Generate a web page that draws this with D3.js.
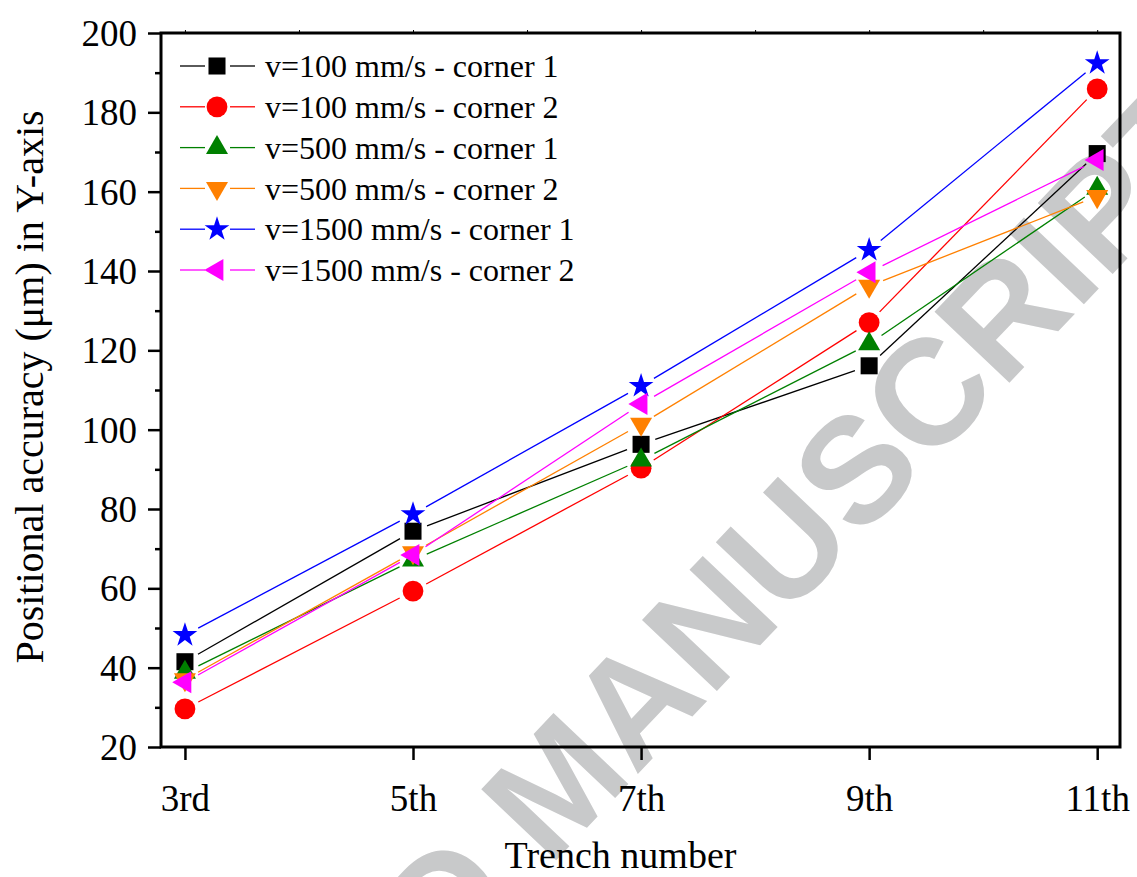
<!DOCTYPE html>
<meta charset="utf-8">
<style>
body { margin: 0; background: #fff; }
svg { display: block; background: #fff; }
text { font-family: "Liberation Serif", "Times New Roman", serif; fill: #000; }
.mark text { font-family: "Liberation Sans", Arial, sans-serif; font-weight: bold; fill: #c8c9ca; }
</style>
<body>
<svg width="1137" height="877"></svg>
</body>
<script src="https://cdn.jsdelivr.net/npm/d3@7"></script>
<script>

// trench positions (3rd .. 11th)
var trench = [3, 5, 7, 9, 11];
var trenchLabels = ["3rd", "5th", "7th", "9th", "11th"];

// positional accuracy, um
var v100c1 = [41.5, 74.4, 96.3, 116.1, 169.6];
var v100c2 = [29.6, 59.3, 90.3, 127.0, 185.9];
var v500c1 = [38.8, 67.1, 92.3, 121.6, 160.8];
var v500c2 = [37.0, 69.0, 101.4, 136.2, 158.8];
var v1500c1 = [48.2, 78.7, 111.0, 145.3, 192.4];
var v1500c2 = [36.3, 68.4, 106.5, 139.7, 168.0];

var seriesNames = [
  "v=100 mm/s - corner 1",
  "v=100 mm/s - corner 2",
  "v=500 mm/s - corner 1",
  "v=500 mm/s - corner 2",
  "v=1500 mm/s - corner 1",
  "v=1500 mm/s - corner 2"
];
var seriesValues = [v100c1, v100c2, v500c1, v500c2, v1500c1, v1500c2];
var seriesColors = ["#000000", "#ff0000", "#008000", "#ff8000", "#0000ff", "#ff00ff"];
var seriesSymbols = ["square", "circle", "up", "down", "star", "left"];

var yTicks = [20, 40, 60, 80, 100, 120, 140, 160, 180, 200];

var svg = d3.select("svg");

var plot = { left: 161, right: 1120, top: 33, bottom: 747 };

var x = d3.scaleLinear().domain([2.79, 11.2]).range([plot.left, plot.right]);
var y = d3.scaleLinear().domain([20, 200]).range([plot.bottom, plot.top]);

// watermark goes underneath everything
svg.append("g")
    .attr("class", "mark")
  .append("text")
    .attr("transform", "translate(556,782) rotate(-46.5)")
    .attr("text-anchor", "middle")
    .attr("dy", "0.36em")
    .style("font-size", "150px")
    .text("ACCEPTED MANUSCRIPT");

function symbolPath(kind) {
  switch (kind) {
    case "square": return d3.symbol(d3.symbolSquare, 290)();
    case "circle": return d3.symbol(d3.symbolCircle, 340)();
    case "up":
    case "down":
    case "left": return d3.symbol(d3.symbolTriangle, 210)();
    case "star": return d3.symbol(d3.symbolStar, 190)();
  }
}

function symbolRotate(kind) {
  if (kind == "down") return " rotate(180)";
  if (kind == "left") return " rotate(-90)";
  return "";
}

// axes
function drawAxes() {
  var g = svg.append("g").attr("class", "axes");

  var yAxis = d3.axisLeft(y).tickValues(yTicks).tickSize(13).tickFormat(d3.format("d"));
  var gy = g.append("g").attr("transform", `translate(${plot.left},0)`).call(yAxis);
  gy.selectAll(".tick line").attr("stroke-width", 2.5);
  gy.selectAll("text").attr("x", -24).attr("dy", "0.34em").style("font-size", "37px")
    .style("font-family", "Liberation Serif");
  gy.select(".domain").remove();

  var yMinor = d3.axisLeft(y).tickValues(d3.range(30, 200, 20)).tickSize(6).tickFormat("");
  var gym = g.append("g").attr("transform", `translate(${plot.left},0)`).call(yMinor);
  gym.selectAll(".tick line").attr("stroke-width", 2.5);
  gym.select(".domain").remove();

  var xAxis = d3.axisBottom(x).tickValues(trench).tickSize(13)
      .tickFormat((d, i) => trenchLabels[i]);
  var gx = g.append("g").attr("transform", `translate(0,${plot.bottom})`).call(xAxis);
  gx.selectAll(".tick line").attr("stroke-width", 2.5);
  gx.selectAll("text").attr("y", 64).attr("dy", 0).style("font-size", "37px")
    .style("font-family", "Liberation Serif");
  gx.select(".domain").remove();

  var xTop = d3.axisTop(x).tickValues(d3.range(3, 12)).tickSize(3).tickFormat("");
  var gxt = g.append("g").attr("transform", `translate(0,${plot.top})`).call(xTop);
  gxt.selectAll(".tick line").attr("stroke-width", 1);
  gxt.select(".domain").remove();

  g.append("rect")
      .attr("x", plot.left)
      .attr("y", plot.top)
      .attr("width", plot.right - plot.left)
      .attr("height", plot.bottom - plot.top)
      .attr("fill", "none")
      .attr("stroke", "#000")
      .attr("stroke-width", 3);

  svg.append("text")
      .attr("x", (plot.left + plot.right) / 2 - 20)
      .attr("y", 868)
      .attr("text-anchor", "middle")
      .style("font-size", "38px")
      .text("Trench number");

  svg.append("text")
      .attr("transform", "translate(43,387) rotate(-90)")
      .attr("text-anchor", "middle")
      .style("font-size", "40px")
      .text("Positional accuracy (\u03bcm) in Y-axis");
}

// lines stop short of the markers, like the original
var gap = 15;

function drawSeries() {
  var g = svg.append("g").attr("class", "series");
  seriesValues.forEach(function(vals, s) {
    var pts = trench.map((t, i) => [x(t), y(vals[i])]);
    var segs = d3.pairs(pts);
    g.append("g").selectAll("line")
      .data(segs)
      .enter().append("line")
        .attr("x1", d => d[0][0] + gap * (d[1][0] - d[0][0]) / Math.hypot(d[1][0] - d[0][0], d[1][1] - d[0][1]))
        .attr("y1", d => d[0][1] + gap * (d[1][1] - d[0][1]) / Math.hypot(d[1][0] - d[0][0], d[1][1] - d[0][1]))
        .attr("x2", d => d[1][0] - gap * (d[1][0] - d[0][0]) / Math.hypot(d[1][0] - d[0][0], d[1][1] - d[0][1]))
        .attr("y2", d => d[1][1] - gap * (d[1][1] - d[0][1]) / Math.hypot(d[1][0] - d[0][0], d[1][1] - d[0][1]))
        .attr("stroke", seriesColors[s])
        .attr("stroke-width", 1.3);
    g.append("g").selectAll("path")
      .data(pts)
      .enter().append("path")
        .attr("d", symbolPath(seriesSymbols[s]))
        .attr("transform", d => `translate(${d[0]},${d[1]})` + symbolRotate(seriesSymbols[s]))
        .attr("fill", seriesColors[s]);
  });
}

function drawLegend() {
  var lg = svg.append("g").attr("class", "legend");
  var row = lg.selectAll("g")
    .data(seriesNames)
    .enter().append("g")
      .attr("transform", (d, i) => `translate(0,${66 + i * 40.8})`);
  row.append("line").attr("x1", 180).attr("x2", 205).attr("y1", 0).attr("y2", 0)
    .attr("stroke", (d, i) => seriesColors[i]).attr("stroke-width", 1.3);
  row.append("line").attr("x1", 230).attr("x2", 255).attr("y1", 0).attr("y2", 0)
    .attr("stroke", (d, i) => seriesColors[i]).attr("stroke-width", 1.3);
  row.append("path")
    .attr("d", (d, i) => symbolPath(seriesSymbols[i]))
    .attr("transform", (d, i) => "translate(217,0)" + symbolRotate(seriesSymbols[i]))
    .attr("fill", (d, i) => seriesColors[i]);
  row.append("text")
    .attr("x", 265)
    .attr("dy", "0.35em")
    .style("font-size", "32px")
    .text(d => d);
}

drawSeries();
drawAxes();
drawLegend();

</script>
